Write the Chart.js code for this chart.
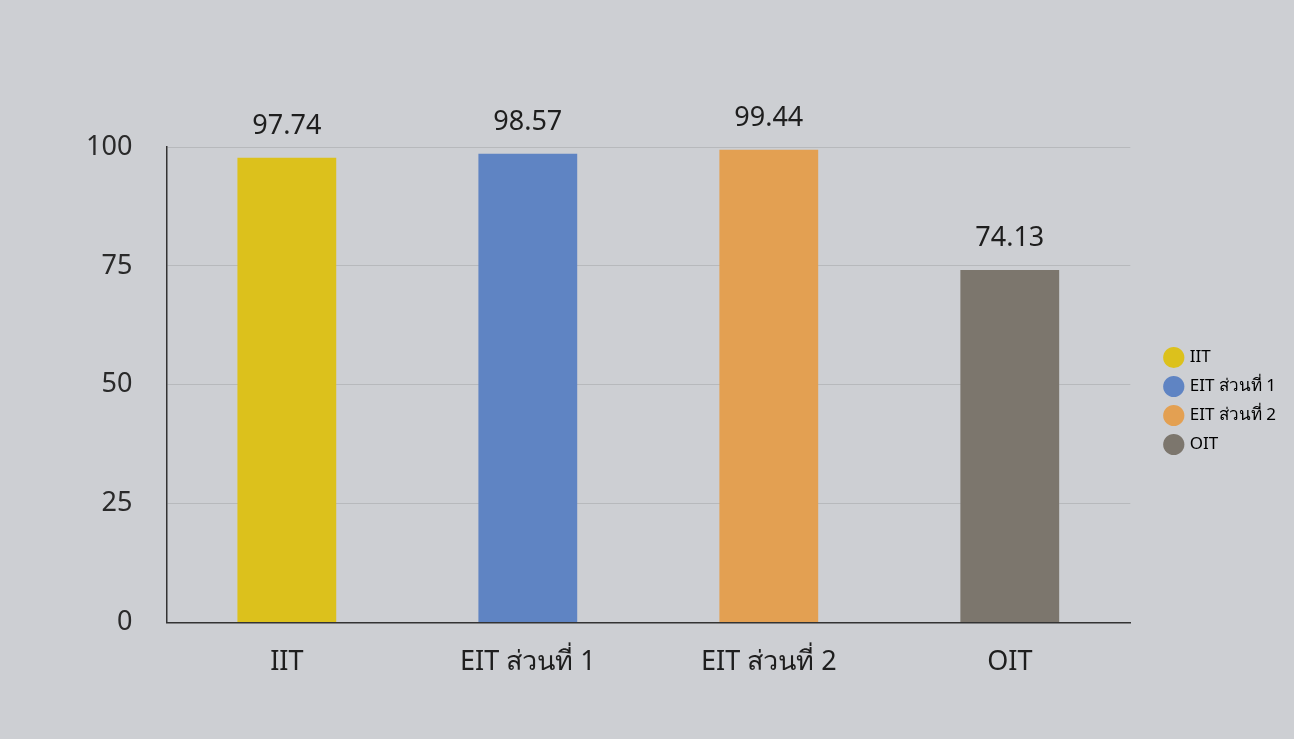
<!DOCTYPE html>
<html>
<head>
<meta charset="utf-8">
<script src="https://cdn.jsdelivr.net/npm/chart.js@4.4.0/dist/chart.umd.min.js"></script>
<style>
  html, body { margin: 0; padding: 0; background: #cdcfd3; }
  #wrap { width: 1294px; height: 739px; position: relative; }
</style>
</head>
<body>
<div id="wrap"><canvas id="myChart"></canvas></div>
<script>
var categories = ['IIT', 'EIT ส่วนที่ 1', 'EIT ส่วนที่ 2', 'OIT'];
var scores = [97.74, 98.57, 99.44, 74.13];
var barColors = ['#dcc11c', '#5f84c3', '#e3a052', '#7c766d'];
var yTicks = [0, 25, 50, 75, 100];

var fontFam = "'Noto Sans', 'DejaVu Sans', sans-serif";

// value labels above each bar
var valueLabels = {
	id: 'valueLabels',
	afterDatasetsDraw: function(chart) {
		var ctx = chart.ctx;
		var meta = chart.getDatasetMeta(0);
		ctx.save();
		ctx.fillStyle = '#1e1e1e';
		ctx.font = '27px ' + fontFam;
		ctx.textAlign = 'center';
		ctx.textBaseline = 'bottom';
		meta.data.forEach(function(bar, i) {
			ctx.fillText(scores[i].toFixed(2), bar.x, bar.y - 18);
		});
		ctx.restore();
	}
};

// nudge the legend a bit right and up, like the original
var legendNudge = {
	id: 'legendNudge',
	afterLayout: function(chart) {
		var lg = chart.legend;
		lg.left += 24; lg.right += 24;
		lg.top -= 24; lg.bottom -= 24;
	}
};

var config = {
	type: 'bar',
	data: {
		labels: categories,
		datasets: [{
			label: 'score',
			data: scores,
			backgroundColor: barColors,
			barPercentage: 0.82,
			categoryPercentage: 0.5
		}]
	},
	options: {
		responsive: true,
		maintainAspectRatio: false,
		animation: false,
		layout: {
			padding: { top: 147, left: 52, right: 32, bottom: 36 }
		},
		scales: {
			x: {
				grid: { display: false, drawTicks: false },
				border: { color: '#333', width: 1.5 },
				ticks: { color: '#1e1e1e', font: { size: 27, family: fontFam }, padding: 24 }
			},
			y: {
				min: 0,
				max: 100,
				afterBuildTicks: function(axis) {
					axis.ticks = yTicks.map(function(v) { return { value: v }; });
				},
				grid: { color: 'rgba(120,120,120,0.25)', drawTicks: false },
				border: { color: '#333', width: 1.5 },
				ticks: { color: '#2a2a2a', font: { size: 27, family: fontFam }, padding: 34 }
			}
		},
		plugins: {
			legend: {
				position: 'right',
				align: 'center',
				labels: {
					usePointStyle: true,
					pointStyle: 'circle',
					boxWidth: 15,
					boxHeight: 15,
					padding: 12,
					color: '#333',
					font: { size: 17, family: fontFam },
					generateLabels: function() {
						return categories.map(function(c, i) {
							return { text: c, fillStyle: barColors[i], strokeStyle: barColors[i], lineWidth: 0, pointStyle: 'circle', index: i };
						});
					}
				}
			},
			tooltip: { enabled: false }
		}
	},
	plugins: [valueLabels, legendNudge]
};

var myChart = new Chart(document.getElementById('myChart'), config);
</script>
</body>
</html>
